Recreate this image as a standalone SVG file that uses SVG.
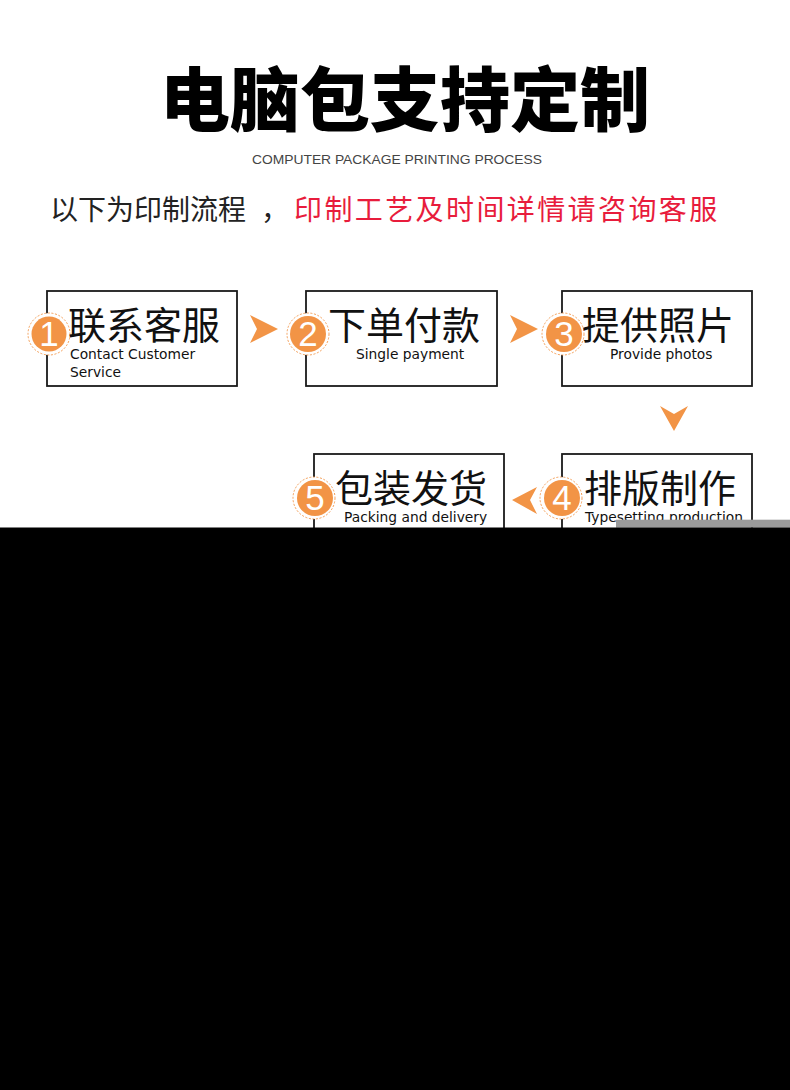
<svg xmlns="http://www.w3.org/2000/svg" width="790" height="1090" viewBox="0 0 790 1090">
<style>
.box{fill:#fff;stroke:#1a1a1a;stroke-width:1.8}
.cn{font-family:"Noto Sans CJK SC","Noto Sans CJK JP",sans-serif;font-size:38px;fill:#111}
.en{font-family:"DejaVu Sans","Liberation Sans",sans-serif;font-size:13.8px;fill:#111}
.ring{fill:#fff;stroke:#F29446;stroke-width:0.9;stroke-dasharray:2 1.6}
.dot{fill:#F29446}
.num{font-family:"Liberation Sans","DejaVu Sans",sans-serif;font-size:35px;fill:#fff;text-anchor:middle}
.arr{fill:#F29446}
</style>
<rect x="0" y="0" width="790" height="1090" fill="#fff"/>
<g id="title">
<text x="405" y="126" text-anchor="middle" font-family="Noto Sans CJK SC,Noto Sans CJK JP,sans-serif" font-size="70" font-weight="900" fill="#000">电脑包支持定制</text>
<text x="252" y="164" textLength="290" lengthAdjust="spacingAndGlyphs" font-family="Liberation Sans,Arial,sans-serif" font-size="13" fill="#444">COMPUTER PACKAGE PRINTING PROCESS</text>
<text y="220" font-family="Noto Sans CJK SC,Noto Sans CJK JP,sans-serif" font-size="28" fill="#222"><tspan x="50">以下为印制流程</tspan><tspan x="261">，</tspan></text>
<text x="294" y="220" font-family="Noto Sans CJK SC,Noto Sans CJK JP,sans-serif" font-size="28" letter-spacing="2.4" fill="#E81C3C">印制工艺及时间详情请咨询客服</text>
</g>
<g id="connectors">
<path class="arr" d="M250,315 L278,329 L250,343 L257,329 Z"/>
<path class="arr" d="M510,315 L538,329 L510,343 L517,329 Z"/>
<path class="arr" d="M660,406 L674,414 L688,406 L674,431 Z"/>
<path class="arr" d="M537,487 L530,500 L537,514 L512,500 Z"/>
</g>
<g id="step1">
<rect class="box" x="47" y="291" width="190" height="95"/>
<circle class="ring" cx="49" cy="334" r="21"/>
<circle class="dot" cx="49" cy="334" r="17.5"/>
<text class="num" x="49" y="346">1</text>
<text class="cn" x="68" y="339">联系客服</text>
<text class="en" x="70" y="359">Contact Customer</text>
<text class="en" x="70" y="377">Service</text>
</g>
<g id="step2">
<rect class="box" x="306" y="291" width="191" height="95"/>
<circle class="ring" cx="308" cy="334" r="21"/>
<circle class="dot" cx="308" cy="334" r="18"/>
<text class="num" x="308" y="346">2</text>
<text class="cn" x="328" y="339">下单付款</text>
<text class="en" x="356" y="359">Single payment</text>
</g>
<g id="step3">
<rect class="box" x="562" y="291" width="190" height="95"/>
<circle class="ring" cx="563" cy="334" r="21"/>
<circle class="dot" cx="564" cy="334" r="18"/>
<text class="num" x="564" y="346">3</text>
<text class="cn" x="582" y="339">提供照片</text>
<text class="en" x="610" y="359">Provide photos</text>
</g>
<g id="step4">
<rect class="box" x="562" y="454" width="190" height="95"/>
<circle class="ring" cx="561" cy="498" r="21"/>
<circle class="dot" cx="562" cy="498" r="18"/>
<text class="num" x="562" y="510">4</text>
<text class="cn" x="584" y="502">排版制作</text>
<text class="en" x="585" y="522">Typesetting production</text>
</g>
<g id="step5">
<rect class="box" x="314" y="454" width="190" height="95"/>
<circle class="ring" cx="314" cy="498" r="21"/>
<circle class="dot" cx="315" cy="498" r="18"/>
<text class="num" x="315" y="510">5</text>
<text class="cn" x="335" y="502">包装发货</text>
<text class="en" x="344" y="522">Packing and delivery</text>
</g>
<rect x="616" y="519.7" width="174" height="8" fill="#9a9a9a"/>
<rect x="0" y="527.5" width="790" height="562.5" fill="#000"/>
</svg>
